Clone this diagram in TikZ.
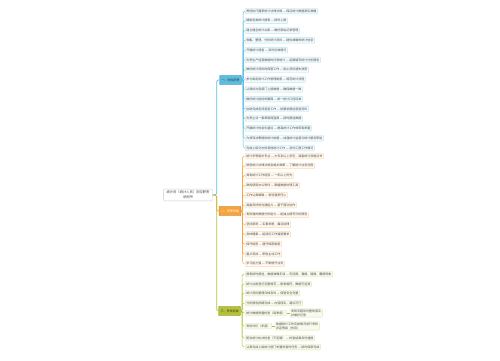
\documentclass[tikz,border=0pt]{standalone}
\usepackage{fontspec}
\newfontfamily\cjk{Noto Sans CJK SC}
\usetikzlibrary{positioning}

\definecolor{clrA}{HTML}{5BBDE0}
\definecolor{clrB}{HTML}{F5A33C}
\definecolor{clrC}{HTML}{B5C238}

\tikzset{
  root/.style={draw=black!20, fill=white, rounded corners=1pt, align=center,
    inner xsep=3pt, inner ysep=2pt, text=black!75},
  topic/.style={draw=#1!75!black, fill=#1, rounded corners=0.8pt,
    minimum height=7, inner xsep=2pt, text=black!80},
  leaf/.style={draw=#1!40, fill=#1!8, rounded corners=0.8pt, anchor=west,
    minimum height=5.6, inner xsep=1.2pt, inner ysep=0.8pt, text=black!70},
  link/.style={draw=#1, line width=0.45pt, rounded corners=1.5pt}
}

\begin{document}
\begin{tikzpicture}[x=1pt, y=-1pt,
    every node/.style={font=\cjk\fontsize{3}{3.8}\selectfont}]
  \fill[white] (0,0) rectangle (500,360);
  \useasboundingbox (0,0) rectangle (500,360);

  \node[root, font=\cjk\fontsize{3.3}{4.6}\selectfont] (root) at (188,195)
    {统计员（统计人员）岗位职责\\说明书};

  \node[topic=clrA] (tA) at (230.5,80) {一、岗位职责};
  \node[topic=clrB, text=white] (tB) at (230,211) {二、任职资格};
  \node[topic=clrC] (tC) at (229.5,311) {三、考核标准};

  \draw[link=clrA, line width=0.7pt] (root.east) -- ++(4,0) |- (tA.west);
  \draw[link=clrB, line width=0.7pt] (root.east) -- ++(4,0) |- (tB.west);
  \draw[link=clrC, line width=0.7pt] (root.east) -- ++(4,0) |- (tC.west);

  % first branch
  \foreach \t [count=\i] in {
      贯彻执行国家统计法律法规 — 保证统计数据真实准确,
      编制各类统计报表 — 按时上报,
      建立健全统计台账 — 做好原始记录管理,
      收集、整理、分析统计资料 — 提供准确的统计信息,
      开展统计调查 — 及时反映情况,
      负责生产经营数据的日常统计 — 定期编写统计分析报告,
      做好统计资料的保管工作 — 防止资料遗失泄密,
      参与制定统计工作管理制度 — 规范统计流程,
      认真核对各部门上报数据 — 确保数据一致,
      做好统计指标的解释 — 统一统计口径标准,
      协助完成各项普查工作 — 按要求报送普查资料,
      负责企业一套表联网直报 — 按时报送数据,
      开展统计信息化建设 — 提高统计工作效率和质量,
      为领导决策提供统计依据 — 加强统计监督与统计服务职能,
      完成上级交办的其他统计工作 — 及时汇报工作情况} {
    \node[leaf=clrA] (a\i) at (245,{11+9.79*(\i-1)}) {\t};
    \draw[link=clrA] (tA.east) -- ++(1.5,0) |- (a\i.west);
  }

  % second branch
  \foreach \t [count=\i] in {
      统计学等相关专业 — 大专及以上学历，具备统计资格证书,
      熟悉统计法律法规及相关政策 — 了解统计业务流程,
      具有统计工作经验 — 一年以上优先,
      熟练使用办公软件 — 掌握数据处理工具,
      工作认真细致 — 有较强责任心,
      具备良好的沟通能力 — 善于团队协作,
      有较强的数据分析能力 — 能独立撰写分析报告,
      坚持原则 — 实事求是，廉洁自律,
      身体健康 — 能适应工作强度要求,
      保守秘密 — 遵守保密制度,
      服从安排 — 积极主动工作,
      学习能力强 — 不断提升业务} {
    \node[leaf=clrB] (b\i) at (245,{156+9.8*(\i-1)}) {\t};
    \draw[link=clrB] (tB.east) -- ++(1.5,0) |- (b\i.west);
  }

  % third branch
  \foreach \t/\y [count=\i] in {
      报表按时报送，数据准确无误 — 无迟报、漏报、错报、瞒报现象/274,
      统计台账登记完整规范 — 账表相符，数据可追溯/284,
      统计资料整理归档及时 — 保管安全完整/293,
      分析报告按期完成 — 内容翔实，建议可行/303,
      统计数据质量检查（每季度）/313,
      考核评价（年度）/326,
      配合统计执法检查（不定期） — 检查结果及时通报/338,
      认真完成上级统计部门布置的临时任务 — 按时保质完成/347} {
    \node[leaf=clrC] (c\i) at (245,\y) {\t};
    \draw[link=clrC] (tC.east) -- ++(1.5,0) |- (c\i.west);
  }

  \node[leaf=clrC, align=left, right=3pt of c5] (c5x)
    {发现问题及时整改落实\\并做好记录};
  \node[leaf=clrC, align=left, right=3pt of c6] (c6x)
    {依据统计工作完成情况进行考核\\评定等级（优良）};
  \draw[link=clrC] (c5) -- (c5x);
  \draw[link=clrC] (c6) -- (c6x);
\end{tikzpicture}
\end{document}
